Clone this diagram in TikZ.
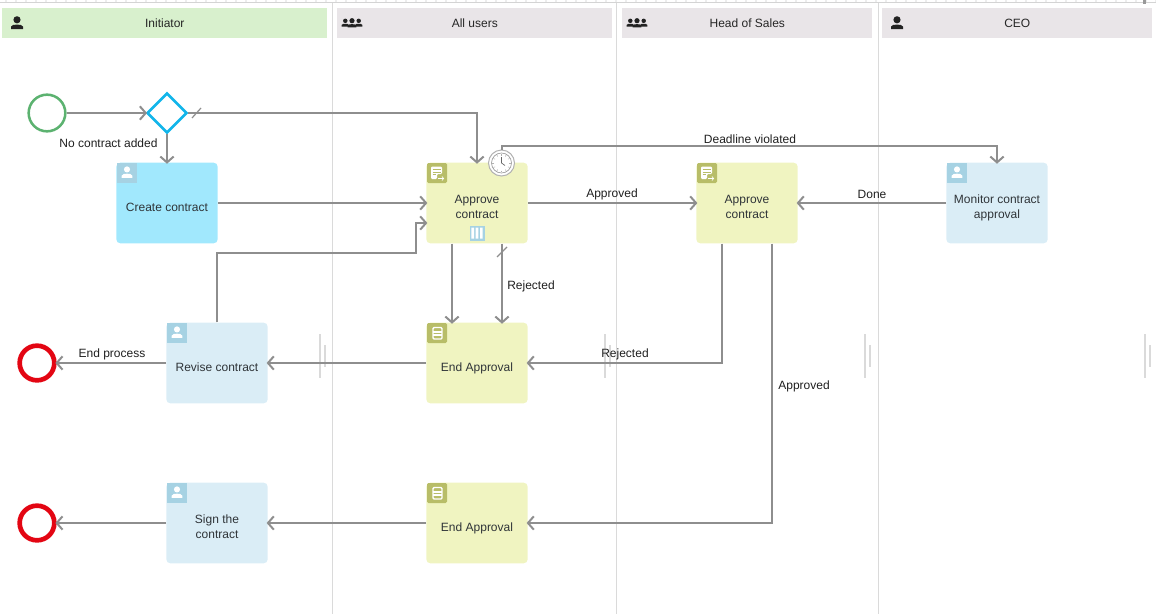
\documentclass[tikz,border=0pt]{standalone}
\usepackage{fontspec}
\setmainfont{Liberation Sans}
\usetikzlibrary{arrows.meta,calc,shapes.geometric}
\definecolor{flowgray}{HTML}{8E8E8E}
\definecolor{lanegray}{HTML}{DADADA}
\definecolor{hdrgreen}{HTML}{D8F0CD}
\definecolor{hdrgray}{HTML}{E9E5E8}
\definecolor{taskcyan}{HTML}{A1E8FD}
\definecolor{tasklime}{HTML}{F0F4C1}
\definecolor{taskblue}{HTML}{DAEDF6}
\definecolor{iconblue}{HTML}{A6D2E3}
\definecolor{iconolive}{HTML}{B8BD68}
\definecolor{textdark}{HTML}{2F3438}
\definecolor{startgreen}{HTML}{5CB270}
\definecolor{gwblue}{HTML}{12B5EA}
\definecolor{endred}{HTML}{E30613}
\definecolor{iconblack}{HTML}{222222}
\newcommand{\tasktext}[1]{\vbox{\kern7.5pt\hbox{\fontsize{9}{11.25}\selectfont\begin{tabular}{@{}c@{}}#1\end{tabular}}}}
\tikzset{
  x=0.75pt,y=-0.75pt,
  flow/.style={draw=flowgray,line width=1.5pt,shorten >=-1pt,-{Straight Barb[length=4.4pt,width=10pt,line width=1.5pt]}},
  tick/.style={draw=flowgray,line width=0.9pt},
  lane/.style={draw=lanegray,line width=0.75pt},
  handle/.style={draw=lanegray,line width=1.2pt},
  header/.style={anchor=north west,minimum height=22.5pt,inner sep=0pt,font=\fontsize{9}{11}\selectfont,text=black!85},
  task/.style={rounded corners=3pt,minimum width=76pt,minimum height=60.5pt,inner sep=0pt,text=textdark},
  cyantask/.style={task,fill=taskcyan},
  limetask/.style={task,fill=tasklime},
  bluetask/.style={task,fill=taskblue},
  flowlabel/.style={font=\fontsize{9}{11}\selectfont,text=black!88,inner sep=0pt},
  pics/person/.style={code={
    \fill[iconblack] (0,-3.2) circle (3.6);
    \fill[iconblack] (-6,6) -- (-6,3.6) .. controls (-5.5,1.8) and (-2.5,1.6) .. (0,1.6) .. controls (2.5,1.6) and (5.5,1.8) .. (6,3.6) -- (6,6) -- cycle;
  }},
  pics/usericon/.style={code={
    \fill[iconblue] (0,0) rectangle (20,20);
    \begin{scope}[shift={(10,10)},scale=0.85]
      \fill[white] (0,-4.2) circle (3.6);
      \fill[white] (-6.2,5.8) -- (-6.2,3.2) .. controls (-6.2,1) and (-2.5,0.8) .. (0,0.8) .. controls (2.5,0.8) and (6.2,1) .. (6.2,3.2) -- (6.2,5.8) -- cycle;
    \end{scope}
  }},
  pics/approveicon/.style={code={
    \fill[iconolive,rounded corners=1pt] (0,0) rectangle (20,20);
    \fill[white,rounded corners=0.8pt] (4,3.5) -- (15,3.5) -- (15,11) -- (10,11) -- (10,16) -- (4,16) -- cycle;
    \draw[iconolive,line width=0.5pt] (5.5,6.3) -- (13.5,6.3) (5.5,9) -- (13.5,9) (5.5,11.7) -- (9,11.7);
    \draw[white,line width=0.5pt,-{Straight Barb[length=1.2pt,width=3pt,line width=0.5pt]}] (11,15.5) -- (17,15.5);
  }},
  pics/docicon/.style={code={
    \fill[iconolive,rounded corners=1pt] (0,0) rectangle (20,20);
    \draw[white,line width=1pt,rounded corners=0.8pt] (6,4.5) rectangle (15,16);
    \draw[white,line width=0.8pt] (6,9) -- (15,9) (6,12) -- (15,12);
  }},
  pics/multiicon/.style={code={
    \fill[iconblue] (-7.5,-7.5) rectangle (7.5,7.5);
    \fill[white] (-5.7,-5.5) rectangle (-3,5.5) (-1.35,-5.5) rectangle (1.35,5.5) (3,-5.5) rectangle (5.7,5.5);
  }},
  pics/clockface/.style={code={
    \draw[black!40,line width=0.5pt] (0,0) circle (10);
    \foreach \ca in {0,30,...,330} \draw[black!30,line width=0.35pt] (\ca:7.5) -- (\ca:9.2);
    \draw[black!60,line width=0.5pt] (0,0) -- (0,-6) (0,0) -- (3.5,2.5);
  }}
}
\begin{document}
\begin{tikzpicture}
\useasboundingbox (0,0) rectangle (1156,614);
% ruler
\foreach \tx in {5,15,...,1155} \fill[black!7] (\tx,0) rectangle ++(1.5,2);
\draw[draw=black!17,line width=0.9pt] (0,2.7) -- (1156,2.7);
\fill[black!40] (1143,0) rectangle (1145.5,3.5);
% lanes
\draw[lane] (332.5,2.5) -- (332.5,614);
\draw[lane] (616.5,2.5) -- (616.5,614);
\draw[lane] (878,2.5) -- (878,614);
% handles
\foreach \hx in {320,605,865,1145} {
  \draw[handle] (\hx,334) -- (\hx,378);
  \draw[handle] (\hx+5,345) -- (\hx+5,367);
}
% headers
\node[header,fill=hdrgreen,minimum width=243.75pt] (h1) at (2,8) {Initiator};
\node[header,fill=hdrgray,minimum width=206.25pt] (h2) at (337,8) {All users};
\node[header,fill=hdrgray,minimum width=187.5pt] (h3) at (622,8) {Head of Sales};
\node[header,fill=hdrgray,minimum width=202.5pt] (h4) at (882,8) {CEO};
\pic at (17,23) {person};
\foreach \gx in {352,637} {
  \pic[scale=0.62] at (\gx-6.7,22.8) {person};
  \pic[scale=0.62] at (\gx+6.7,22.8) {person};
  \pic[scale=0.72] at (\gx,23) {person};
}
\pic at (897,23) {person};
% events
\node[circle,draw=startgreen,line width=1.9pt,minimum size=27.5pt,inner sep=0pt] (start) at (47,113) {};
\node[diamond,aspect=1,draw=gwblue,line width=1.9pt,minimum size=30pt,inner sep=0pt] (gw) at (167,113) {};
\node[circle,draw=endred,line width=3.5pt,minimum size=26pt,inner sep=0pt] (end1) at (37,363) {};
\node[circle,draw=endred,line width=3.5pt,minimum size=26pt,inner sep=0pt] (end2) at (37,523) {};
% tasks
\node[cyantask] (create) at (167,203) {\tasktext{Create contract}};
\node[limetask] (appr1) at (477,203) {\tasktext{Approve\\contract}};
\node[limetask] (appr2) at (747,203) {\tasktext{Approve\\contract}};
\node[bluetask] (mon) at (997,203) {\tasktext{Monitor contract\\approval}};
\node[bluetask] (rev) at (217,363) {\tasktext{Revise contract}};
\node[limetask] (endA) at (477,363) {\tasktext{End Approval}};
\node[bluetask] (sign) at (217,523) {\tasktext{Sign the\\contract}};
\node[limetask] (endB) at (477,523) {\tasktext{End Approval}};
% task icons
\pic at (117,163) {usericon};
\pic at (947,163) {usericon};
\pic at (167,323) {usericon};
\pic at (167,483) {usericon};
\pic at (427,163) {approveicon};
\pic at (697,163) {approveicon};
\pic at (427,323) {docicon};
\pic at (427,483) {docicon};
\pic at (477,233) {multiicon};
% clock
\node[circle,draw=black!30,fill=white,line width=0.75pt,minimum size=19.5pt,inner sep=0pt] (clock) at (501.5,163) {};
\pic at (clock.center) {clockface};
% connectors
\draw[flow] (start) -- (gw);
\draw[flow] (gw.east) -| (appr1.north);
\draw[flow] (gw.south) -- (create.north);
\draw[flow] (create.east) -- (appr1.west);
\draw[flow] (rev.north) |- ($(appr1.west)+(-10,50)$) |- ($(appr1.west)+(0,20)$);
\draw[flow] ($(appr1.south)+(-25,0)$) -- ($(endA.north)+(-25,0)$);
\draw[flow] ($(appr1.south)+(25,0)$) -- ($(endA.north)+(25,0)$);
\draw[flow] (appr1.east) -- (appr2.west);
\draw[flow] (mon.west) -- (appr2.east);
\draw[flow] (clock.north) |- ($(mon.north)+(0,-16)$) -- (mon.north);
\draw[flow] ($(appr2.south)+(-25,0)$) |- (endA.east);
\draw[flow] ($(appr2.south)+(25,0)$) |- (endB.east);
\draw[flow] (endA.west) -- (rev.east);
\draw[flow] (rev.west) -- (end1.east);
\draw[flow] (endB.west) -- (sign.east);
\draw[flow] (sign.west) -- (end2.east);
% default-flow slashes
\draw[tick] (192,118) -- (201,108);
\draw[tick] (497,257) -- (507,247);
% labels
\node[flowlabel] (l1) at (108.5,143) {No contract added};
\node[flowlabel] (l2) at (531,286) {Rejected};
\node[flowlabel] (l3) at (612,194) {Approved};
\node[flowlabel] (l4) at (750,139) {Deadline violated};
\node[flowlabel] (l5) at (872,194) {Done};
\node[flowlabel] (l6) at (625,354) {Rejected};
\node[flowlabel] (l7) at (804,386) {Approved};
\node[flowlabel] (l8) at (112,354) {End process};
\end{tikzpicture}
\end{document}
